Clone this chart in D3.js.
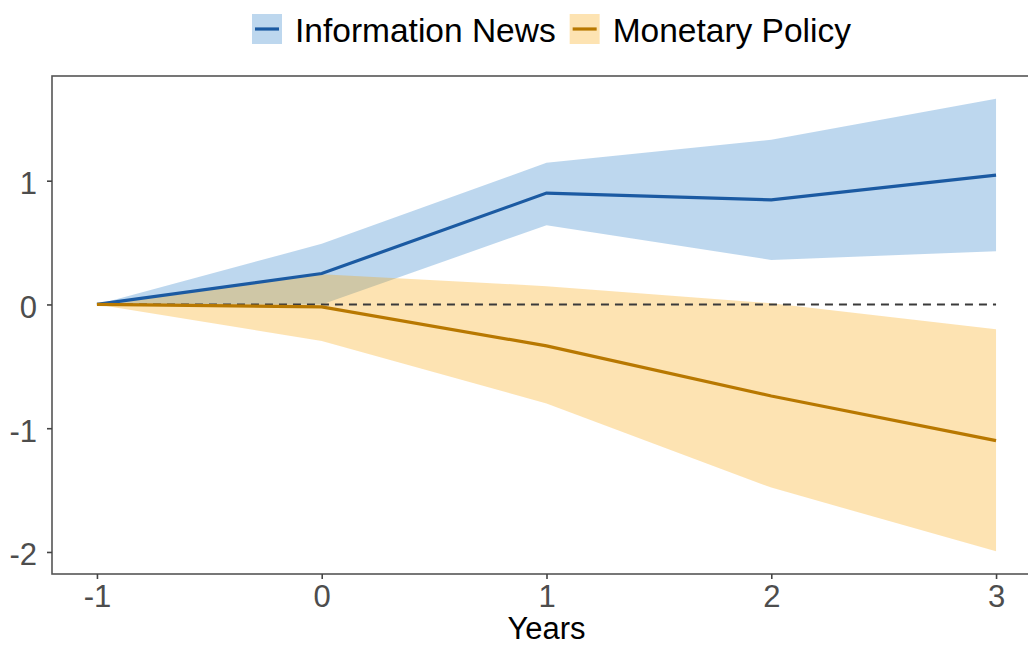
<!DOCTYPE html>
<html>
<head>
<meta charset="utf-8">
<script src="https://cdn.jsdelivr.net/npm/d3@7"></script>
<style>
  body { margin: 0; background: #fff; }
  text { font-family: "Liberation Sans", Arial, sans-serif; }
</style>
</head>
<body>
<script>
// horizon in years
const years = [-1, 0, 1, 2, 3];

// Information News response with 95% band
const infoMean  = [0, 0.25, 0.90, 0.845, 1.045];
const infoLower = [0, 0.00, 0.64, 0.36, 0.43];
const infoUpper = [0, 0.49, 1.145, 1.33, 1.663];

// Monetary Policy response with band
const monMean  = [0, -0.02, -0.335, -0.74, -1.10];
const monLower = [0, -0.295, -0.80, -1.48, -1.995];
const monUpper = [0, 0.245, 0.148, 0.01, -0.20];

const xTicks = [-1, 0, 1, 2, 3];
const yTicks = [-2, -1, 0, 1];
const seriesNames = ['Information News', 'Monetary Policy'];

const w = 1028, h = 647;
const panel = { left: 52, right: 1041, top: 76, bottom: 574 };

const svg = d3.select('body')
              .append('svg')
              .attr('width', w)
              .attr('height', h);

const x = d3.scaleLinear()
            .domain([-1.2, 3.2])
            .range([panel.left, panel.right]);

const y = d3.scaleLinear()
            .domain([-2.178, 1.846])
            .range([panel.bottom, panel.top]);

const colors = {
  info: { fill: '#3786cb', line: '#1b5aa2' },
  mon:  { fill: '#f8a200', line: '#b87800' }
};

const toRows = (mean, lo, hi) => years.map((yr, i) => ({ x: yr, m: mean[i], lo: lo[i], hi: hi[i] }));
const infoRows = toRows(infoMean, infoLower, infoUpper);
const monRows = toRows(monMean, monLower, monUpper);

const area = d3.area()
               .x(d => x(d.x))
               .y0(d => y(d.lo))
               .y1(d => y(d.hi));

const line = d3.line()
               .x(d => x(d.x))
               .y(d => y(d.m));

// ribbons
svg.append('path')
   .datum(infoRows)
   .attr('d', area)
   .attr('fill', colors.info.fill)
   .attr('fill-opacity', 0.33);

svg.append('path')
   .datum(monRows)
   .attr('d', area)
   .attr('fill', colors.mon.fill)
   .attr('fill-opacity', 0.3);

// zero line
svg.append('line')
   .attr('x1', x(-1))
   .attr('x2', x(3))
   .attr('y1', y(0))
   .attr('y2', y(0))
   .attr('stroke', '#3a3a3a')
   .attr('stroke-width', 2)
   .attr('stroke-dasharray', '8,6');

svg.append('path')
   .datum(infoRows)
   .attr('d', line)
   .attr('fill', 'none')
   .attr('stroke', colors.info.line)
   .attr('stroke-width', 3.2);

svg.append('path')
   .datum(monRows)
   .attr('d', line)
   .attr('fill', 'none')
   .attr('stroke', colors.mon.line)
   .attr('stroke-width', 3.2);

// panel border
svg.append('rect')
   .attr('x', panel.left)
   .attr('y', panel.top)
   .attr('width', panel.right - panel.left)
   .attr('height', panel.bottom - panel.top)
   .attr('fill', 'none')
   .attr('stroke', '#555')
   .attr('stroke-width', 1.6);

// axes (plain hyphen minus like the original)
const fmt = d => String(d);

const xAxis = svg.append('g')
                 .attr('transform', 'translate(0,' + panel.bottom + ')')
                 .call(d3.axisBottom(x).tickValues(xTicks).tickFormat(fmt).tickSizeOuter(0).tickSizeInner(5).tickPadding(4));
xAxis.select('.domain').remove();
xAxis.selectAll('line').attr('stroke', '#444').attr('stroke-width', 1.6);
xAxis.selectAll('text')
     .attr('font-size', 31)
     .attr('fill', '#4d4d4d')
     .attr('dy', null)
     .attr('y', 33);

const yAxis = svg.append('g')
                 .attr('transform', 'translate(' + panel.left + ',0)')
                 .call(d3.axisLeft(y).tickValues(yTicks).tickFormat(fmt).tickSizeOuter(0).tickSizeInner(5).tickPadding(10));
yAxis.select('.domain').remove();
yAxis.selectAll('line').attr('stroke', '#444').attr('stroke-width', 1.6);
yAxis.selectAll('text')
     .attr('font-size', 31)
     .attr('fill', '#4d4d4d')
     .attr('dy', null)
     .attr('y', 13);

// x axis title
svg.append('text')
   .attr('x', (panel.left + panel.right) / 2)
   .attr('y', 639)
   .attr('text-anchor', 'middle')
   .attr('font-size', 31)
   .attr('fill', '#000')
   .text('Years');

// legend
const legend = svg.append('g');
const legendKeys = [colors.info, colors.mon];
let lx = 252;
seriesNames.forEach((name, i) => {
  const c = legendKeys[i];
  legend.append('rect')
        .attr('x', lx)
        .attr('y', 14)
        .attr('width', 30)
        .attr('height', 30)
        .attr('fill', c.fill)
        .attr('fill-opacity', i === 0 ? 0.33 : 0.3);
  legend.append('line')
        .attr('x1', lx + 3)
        .attr('x2', lx + 27)
        .attr('y1', 29)
        .attr('y2', 29)
        .attr('stroke', c.line)
        .attr('stroke-width', 3.2);
  const t = legend.append('text')
                  .attr('x', lx + 43)
                  .attr('y', 42)
                  .attr('font-size', 33.5)
                  .attr('fill', '#000')
                  .text(name);
  lx += 43 + t.node().getComputedTextLength() + 14;
});
</script>
</body>
</html>
